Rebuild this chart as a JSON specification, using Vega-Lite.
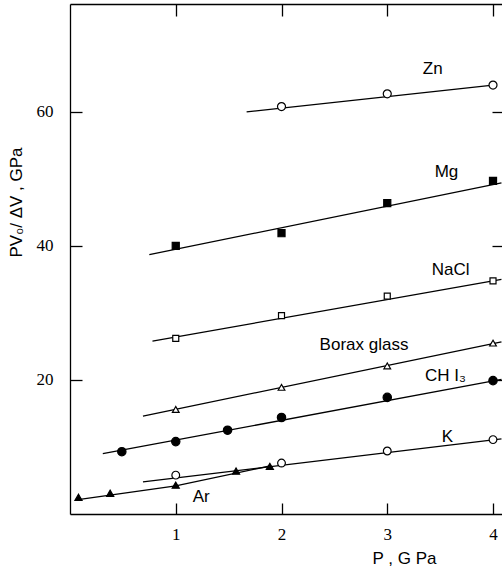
{
  "$schema": "https://vega.github.io/schema/vega-lite/v6.json",
  "width": 432,
  "height": 510,
  "autosize": "none",
  "padding": {"left": 70, "top": 4, "right": 0, "bottom": 57},
  "background": "white",
  "config": {
    "view": {"stroke": null},
    "axis": {
      "grid": false,
      "domainColor": "black",
      "domainWidth": 1.3,
      "tickColor": "black",
      "tickWidth": 1.3,
      "labelColor": "black",
      "titleColor": "black",
      "labelFont": "Liberation Sans Narrow",
      "labelFontSize": 17,
      "titleFont": "Liberation Sans",
      "titleFontSize": 17,
      "titleFontWeight": "normal"
    }
  },
  "datasets": {
    "points": [
      {"series": "Zn", "P": 2, "v": 60.8},
      {"series": "Zn", "P": 3, "v": 62.7},
      {"series": "Zn", "P": 4, "v": 64.0},
      {"series": "Mg", "P": 1, "v": 40.0},
      {"series": "Mg", "P": 2, "v": 41.9},
      {"series": "Mg", "P": 3, "v": 46.4},
      {"series": "Mg", "P": 4, "v": 49.7},
      {"series": "NaCl", "P": 1, "v": 26.2},
      {"series": "NaCl", "P": 2, "v": 29.6},
      {"series": "NaCl", "P": 3, "v": 32.5},
      {"series": "NaCl", "P": 4, "v": 34.8},
      {"series": "Borax glass", "P": 1, "v": 15.6},
      {"series": "Borax glass", "P": 2, "v": 18.9},
      {"series": "Borax glass", "P": 3, "v": 22.1},
      {"series": "Borax glass", "P": 4, "v": 25.5},
      {"series": "CHI3", "P": 0.49, "v": 9.3},
      {"series": "CHI3", "P": 1, "v": 10.8},
      {"series": "CHI3", "P": 1.49, "v": 12.5},
      {"series": "CHI3", "P": 2, "v": 14.4},
      {"series": "CHI3", "P": 3, "v": 17.4},
      {"series": "CHI3", "P": 4, "v": 19.9},
      {"series": "K", "P": 1, "v": 5.8},
      {"series": "K", "P": 2, "v": 7.6},
      {"series": "K", "P": 3, "v": 9.4},
      {"series": "K", "P": 4, "v": 11.1},
      {"series": "Ar", "P": 0.08, "v": 2.5},
      {"series": "Ar", "P": 0.38, "v": 3.1},
      {"series": "Ar", "P": 1, "v": 4.3},
      {"series": "Ar", "P": 1.57, "v": 6.4},
      {"series": "Ar", "P": 1.89, "v": 7.1}
    ],
    "lines": [
      {"series": "Zn", "P": 1.67, "v": 60.0},
      {"series": "Zn", "P": 4.0, "v": 64.0},
      {"series": "Mg", "P": 0.75, "v": 38.7},
      {"series": "Mg", "P": 4.08, "v": 49.4},
      {"series": "NaCl", "P": 0.78, "v": 25.8},
      {"series": "NaCl", "P": 4.08, "v": 35.0},
      {"series": "Borax glass", "P": 0.69, "v": 14.6},
      {"series": "Borax glass", "P": 4.08, "v": 25.7},
      {"series": "CHI3", "P": 0.31, "v": 9.0},
      {"series": "CHI3", "P": 4.08, "v": 20.1},
      {"series": "K", "P": 0.69, "v": 4.8},
      {"series": "K", "P": 4.08, "v": 11.2},
      {"series": "Ar", "P": 0.06, "v": 2.1},
      {"series": "Ar", "P": 1.0, "v": 4.2},
      {"series": "Ar", "P": 1.9, "v": 7.2}
    ],
    "labels": [
      {"text": "Zn", "P": 3.43, "v": 65.6},
      {"text": "Mg", "P": 3.56, "v": 50.3},
      {"text": "NaCl", "P": 3.6, "v": 35.7},
      {"text": "Borax glass", "P": 2.78, "v": 24.4},
      {"text": "CH I₃", "P": 3.55, "v": 19.9},
      {"text": "K", "P": 3.57, "v": 10.8},
      {"text": "Ar", "P": 1.24, "v": 1.84}
    ]
  },
  "resolve": {"axis": {"x": "independent", "y": "independent"}},
  "layer": [
    {
      "data": {"name": "lines"},
      "mark": {"type": "line", "color": "black", "strokeWidth": 1.3},
      "encoding": {
        "x": {"field": "P", "type": "quantitative", "scale": {"domain": [0, 4.085], "nice": false, "zero": false},
              "axis": {"orient": "top", "values": [1, 2, 3, 4], "labels": false, "tickSize": -12, "title": null}},
        "y": {"field": "v", "type": "quantitative", "scale": {"domain": [0, 76.1], "nice": false},
              "axis": {"orient": "right", "values": [20, 40, 60], "labels": false, "domain": false, "tickSize": -10, "title": null}},
        "detail": {"field": "series"}
      }
    },
    {
      "data": {"name": "points"},
      "mark": {"type": "point", "filled": false, "stroke": "black", "strokeWidth": 1.2, "opacity": 1},
      "encoding": {
        "x": {"field": "P", "type": "quantitative",
              "axis": {"orient": "bottom", "values": [1, 2, 3, 4], "tickSize": -11, "labelPadding": 23,
                       "title": "P , G Pa", "titleX": 334, "titleY": 49, "titleBaseline": "alphabetic", "titleAnchor": null, "titleAlign": "center"}},
        "y": {"field": "v", "type": "quantitative",
              "axis": {"orient": "left", "values": [20, 40, 60], "tickSize": -12, "labelPadding": 29,
                       "title": "PV₀/ ΔV , GPa", "titleX": -49, "titleY": 198, "titleAngle": -90, "titleBaseline": "alphabetic", "titleAlign": "center"}},
        "shape": {"field": "series", "type": "nominal", "legend": null,
                  "scale": {"domain": ["Zn", "Mg", "NaCl", "Borax glass", "CHI3", "K", "Ar"],
                            "range": ["circle", "square", "square", "triangle-up", "circle", "circle", "triangle-up"]}},
        "fill": {"field": "series", "type": "nominal", "legend": null,
                 "scale": {"domain": ["Zn", "Mg", "NaCl", "Borax glass", "CHI3", "K", "Ar"],
                           "range": ["white", "black", "white", "white", "black", "white", "black"]}},
        "size": {"field": "series", "type": "nominal", "legend": null,
                 "scale": {"type": "ordinal", "domain": ["Zn", "Mg", "NaCl", "Borax glass", "CHI3", "K", "Ar"],
                           "range": [64, 50, 36, 45, 70, 60, 50]}}
      }
    },
    {
      "data": {"name": "labels"},
      "mark": {"type": "text", "font": "Liberation Sans", "fontSize": 17, "align": "center", "baseline": "alphabetic", "color": "black"},
      "encoding": {
        "x": {"field": "P", "type": "quantitative", "axis": null},
        "y": {"field": "v", "type": "quantitative", "axis": null},
        "text": {"field": "text"}
      }
    }
  ]
}
